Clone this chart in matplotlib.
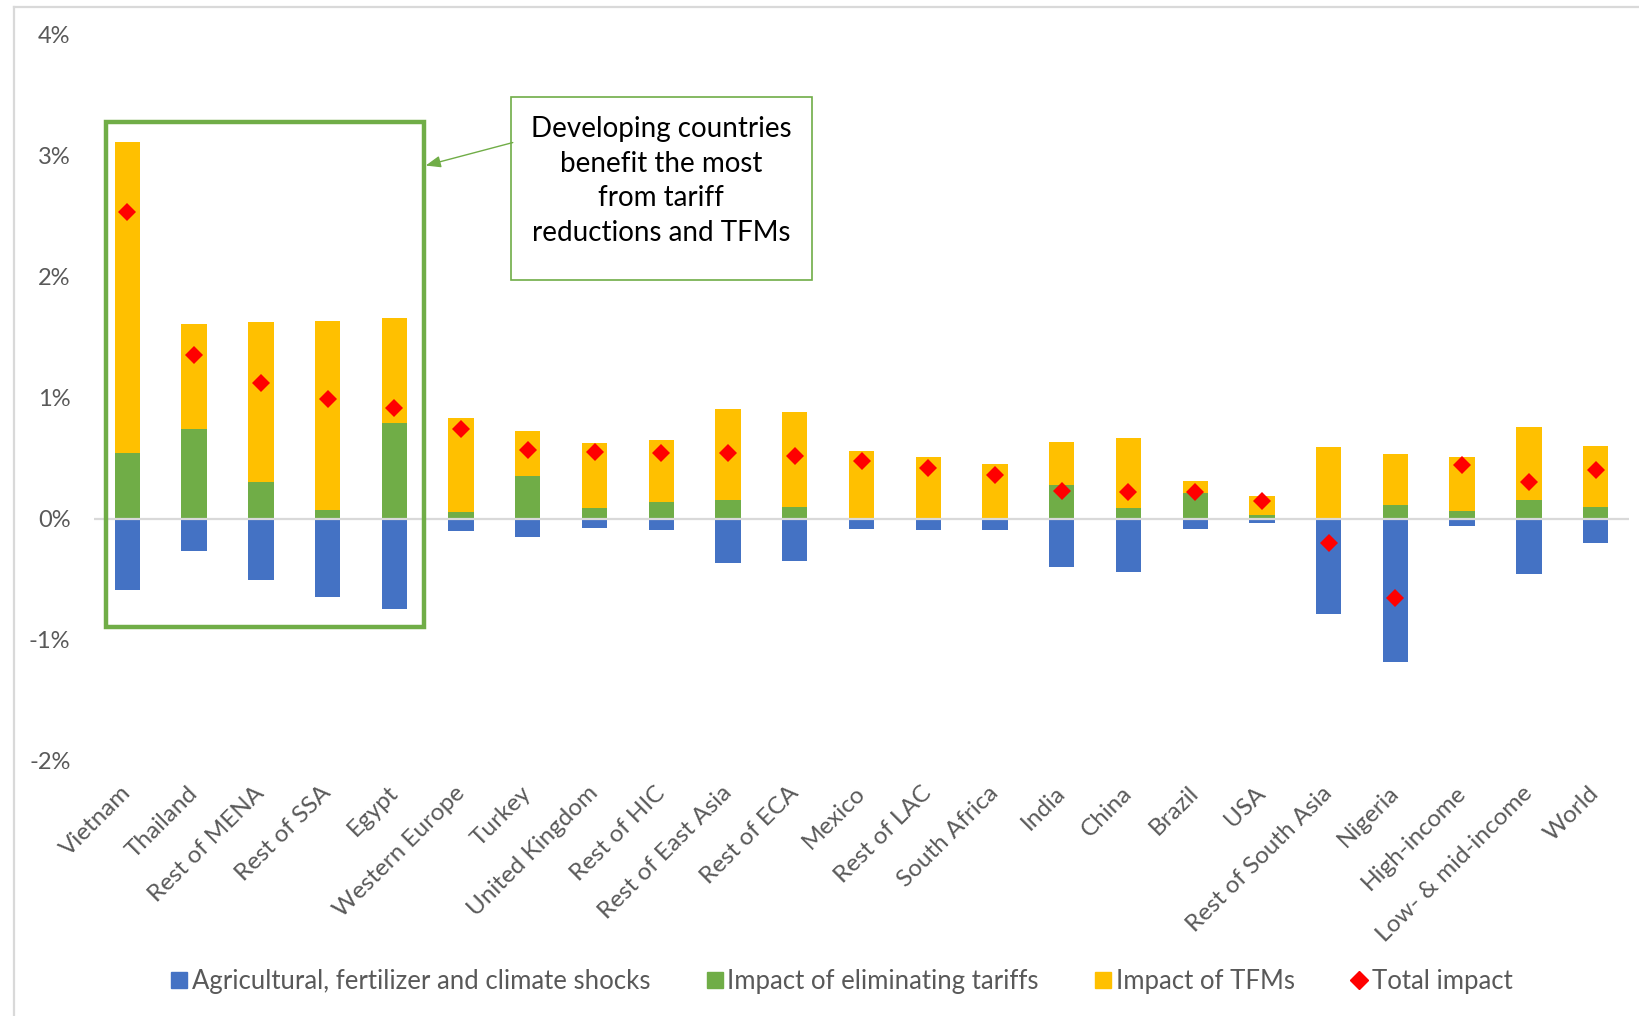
import matplotlib
matplotlib.use("Agg")
import matplotlib.pyplot as plt
from matplotlib.lines import Line2D
from matplotlib.patches import Rectangle
import numpy as np

plt.rcParams['font.family'] = ['Lato', 'DejaVu Sans']

regions = ["Vietnam", "Thailand", "Rest of MENA", "Rest of SSA", "Egypt",
           "Western Europe", "Turkey", "United Kingdom", "Rest of HIC",
           "Rest of East Asia", "Rest of ECA", "Mexico", "Rest of LAC",
           "South Africa", "India", "China", "Brazil", "USA",
           "Rest of South Asia", "Nigeria", "High-income",
           "Low- & mid-income", "World"]

# percent changes
shocks = [-0.59, -0.27, -0.51, -0.65, -0.75, -0.10, -0.15, -0.077, -0.097,
          -0.367, -0.35, -0.088, -0.097, -0.097, -0.40, -0.444, -0.088,
          -0.039, -0.79, -1.19, -0.066, -0.455, -0.20]
tariffs = [0.54, 0.74, 0.30, 0.07, 0.79, 0.05, 0.35, 0.09, 0.14, 0.155,
           0.095, 0.0, 0.0, 0.0, 0.28, 0.09, 0.21, 0.025, 0.0, 0.115,
           0.065, 0.155, 0.095]
tfms = [2.57, 0.87, 1.325, 1.565, 0.865, 0.783, 0.37, 0.536, 0.506, 0.753,
        0.785, 0.56, 0.51, 0.453, 0.349, 0.575, 0.099, 0.157, 0.588, 0.415,
        0.445, 0.598, 0.504]
total = [2.53, 1.35, 1.12, 0.99, 0.91, 0.74, 0.57, 0.55, 0.54, 0.54, 0.52,
         0.475, 0.414, 0.356, 0.23, 0.22, 0.22, 0.143, -0.20, -0.66, 0.444,
         0.298, 0.397]

yticks = [-2, -1, 0, 1, 2, 3, 4]
ytick_labels = ["-2%", "-1%", "0%", "1%", "2%", "3%", "4%"]

BLUE = "#4472C4"
GREEN = "#70AD47"
YELLOW = "#FFC000"
RED = "#FF0000"
TXT = "#595959"

W, H = 1640, 1016
fig = plt.figure(figsize=(W / 100, H / 100), dpi=100)
ax = fig.add_axes([94 / W, 1 - 760.5 / H, (1629 - 94) / W, 726 / H])

x = np.arange(len(regions))
bw = 0.38
ax.bar(x, shocks, bw, color=BLUE, zorder=2)
ax.bar(x, tariffs, bw, color=GREEN, zorder=2)
ax.bar(x, tfms, bw, bottom=tariffs, color=YELLOW, zorder=2)
ax.axhline(0, color="#D9D9D9", lw=1.6, zorder=3)
ax.plot(x, total, linestyle="none", marker="D", ms=9, color=RED,
        markeredgewidth=0, zorder=4)

ax.set_xlim(-0.5, len(regions) - 0.5)
ax.set_ylim(-2, 4)
ax.set_yticks(yticks)
ax.set_yticklabels(ytick_labels)
ax.set_xticks(x)
ax.set_xticklabels(regions, rotation=45, ha="right", va="center",
                   rotation_mode="anchor")
ax.tick_params(axis="y", length=0, pad=17, labelsize=17, labelcolor=TXT)
ax.tick_params(axis="x", length=0, pad=21, labelsize=17.5, labelcolor=TXT)
for s in ax.spines.values():
    s.set_visible(False)

# highlight box around the first group of countries
ax.add_patch(Rectangle((-0.324, -0.894), 4.45 + 0.324, 3.278 + 0.894,
                       fill=False, ec=GREEN, lw=3.2, zorder=5))

# callout box
ax.add_patch(Rectangle((5.745, 1.975), 10.255 - 5.745, 3.48 - 1.975,
                       fill=True, fc="white", ec=GREEN, lw=1.2, zorder=5))
ax.text(8.0, 2.79, "Developing countries\nbenefit the most\nfrom tariff\nreductions and TFMs",
        ha="center", va="center", fontsize=20, color="black",
        linespacing=1.42, zorder=6)
ax.annotate("", xy=(4.47, 2.917), xytext=(5.775, 3.107),
            arrowprops=dict(arrowstyle="-|>,head_length=0.9,head_width=0.35",
                            color=GREEN, lw=1.0, shrinkA=0, shrinkB=0),
            zorder=6)

# chart frame lines
fig.add_artist(Line2D([14 / W, 1], [1 - 7 / H, 1 - 7 / H], color="#D9D9D9", lw=1.6))
fig.add_artist(Line2D([14 / W, 14 / W], [0, 1 - 7 / H], color="#D9D9D9", lw=1.6))

handles = [
    Line2D([], [], linestyle="none", marker="s", ms=11, color=BLUE),
    Line2D([], [], linestyle="none", marker="s", ms=11, color=GREEN),
    Line2D([], [], linestyle="none", marker="s", ms=11, color=YELLOW),
    Line2D([], [], linestyle="none", marker="D", ms=9, color=RED),
]
labels = ["Agricultural, fertilizer and climate shocks",
          "Impact of eliminating tariffs", "Impact of TFMs", "Total impact"]
leg = fig.legend(handles, labels, loc="center", ncol=4,
                 bbox_to_anchor=(842 / W, 1 - 981 / H), frameon=False,
                 fontsize=18.5, handlelength=0.6, handletextpad=0.2,
                 columnspacing=2.2, labelcolor=TXT)

fig.savefig("out.png", dpi=100, facecolor="white")
